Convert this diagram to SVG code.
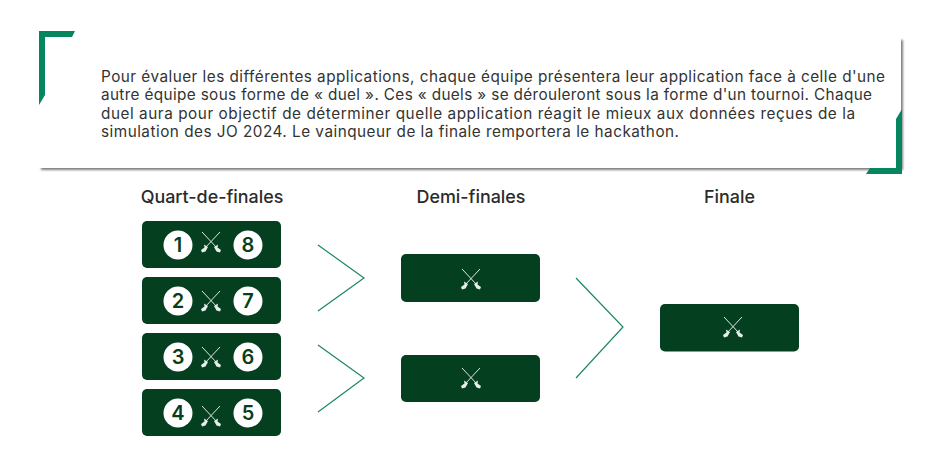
<svg xmlns="http://www.w3.org/2000/svg" width="945" height="464" viewBox="0 0 945 464">
<style>
.b{fill:#043f20}
.c{fill:#fff}
.n{font:600 20px "Inter","Liberation Sans",sans-serif;fill:#043f20;text-anchor:middle}
.h{font:500 17.900px "Inter","Liberation Sans",sans-serif;fill:#2b2b2b;text-anchor:middle}
.t{font:400 15.300px "Inter","Liberation Sans",sans-serif;fill:#333}
.l{fill:none;stroke:#1b8765;stroke-width:1.200}
.g{fill:#06865f}
.s line{stroke:#dfe8e2;stroke-width:1}
.s path{fill:#e6eee9}
</style>
<defs>
<filter id="sh" x="-2%" y="-5%" width="104%" height="112%"><feGaussianBlur stdDeviation="1"/></filter>
<g id="sw" class="s">
<line x1="-9" y1="-10" x2="6" y2="6"/><line x1="9" y1="-10" x2="-6" y2="6"/>
<path d="M3 5L7 2.500L6.500 5.500L10 8L9 10.500L5.500 9.500Z"/>
<path d="M-3 5L-7 2.500L-6.500 5.500L-10 8L-9 10.500L-5.500 9.500Z"/>
</g>
</defs>
<g id="banner">
<rect x="41" y="40" width="862" height="130" fill="#7f7f7f" filter="url(#sh)"/>
<rect x="39" y="38" width="862" height="130" fill="#fff"/>
<path class="g" d="M39 31H75L72 37H45V95L39 105Z"/>
<path class="g" d="M902 109V174H866L870 168H896V119Z"/>
<text class="t" x="101" y="82" textLength="784">Pour évaluer les différentes applications, chaque équipe présentera leur application face à celle d'une</text>
<text class="t" x="101" y="100" textLength="771">autre équipe sous forme de « duel ». Ces « duels » se dérouleront sous la forme d'un tournoi. Chaque</text>
<text class="t" x="101" y="118.500" textLength="754">duel aura pour objectif de déterminer quelle application réagit le mieux aux données reçues de la</text>
<text class="t" x="101" y="137" textLength="578">simulation des JO 2024. Le vainqueur de la finale remportera le hackathon.</text>
</g>
<g id="titles">
<text class="h" x="212" y="203">Quart-de-finales</text>
<text class="h" x="471" y="203">Demi-finales</text>
<text class="h" x="729.500" y="203">Finale</text>
</g>
<g id="connectors">
<path class="l" d="M318 245L364 278L318 311"/>
<path class="l" d="M318 345L364 378L318 412"/>
<path class="l" d="M576 278L623 327L576 378"/>
</g>
<g id="qf1"><rect class="b" x="142" y="221" width="139" height="47" rx="5"/><circle class="c" cx="178" cy="245" r="14.500"/><circle class="c" cx="248" cy="245" r="14.500"/><text class="n" x="178" y="252">1</text><text class="n" x="248" y="252">8</text><use href="#sw" x="211" y="242"/></g>
<g id="qf2"><rect class="b" x="142" y="277" width="139" height="47" rx="5"/><circle class="c" cx="178" cy="301" r="14.500"/><circle class="c" cx="248" cy="301" r="14.500"/><text class="n" x="178" y="308">2</text><text class="n" x="248" y="308">7</text><use href="#sw" x="211" y="301"/></g>
<g id="qf3"><rect class="b" x="142" y="333" width="139" height="47" rx="5"/><circle class="c" cx="178" cy="357" r="14.500"/><circle class="c" cx="248" cy="357" r="14.500"/><text class="n" x="178" y="364">3</text><text class="n" x="248" y="364">6</text><use href="#sw" x="211" y="357"/></g>
<g id="qf4"><rect class="b" x="142" y="389" width="139" height="47" rx="5"/><circle class="c" cx="178" cy="413" r="14.500"/><circle class="c" cx="248" cy="413" r="14.500"/><text class="n" x="178" y="420">4</text><text class="n" x="248" y="420">5</text><use href="#sw" x="211" y="416"/></g>
<g id="sf1"><rect class="b" x="401" y="254" width="139" height="48" rx="5"/><use href="#sw" x="471" y="279"/></g>
<g id="sf2"><rect class="b" x="401" y="355" width="139" height="47" rx="5"/><use href="#sw" x="471" y="378"/></g>
<g id="final"><rect class="b" x="660" y="304" width="139" height="47.500" rx="5"/><use href="#sw" x="733" y="327"/></g>
</svg>
